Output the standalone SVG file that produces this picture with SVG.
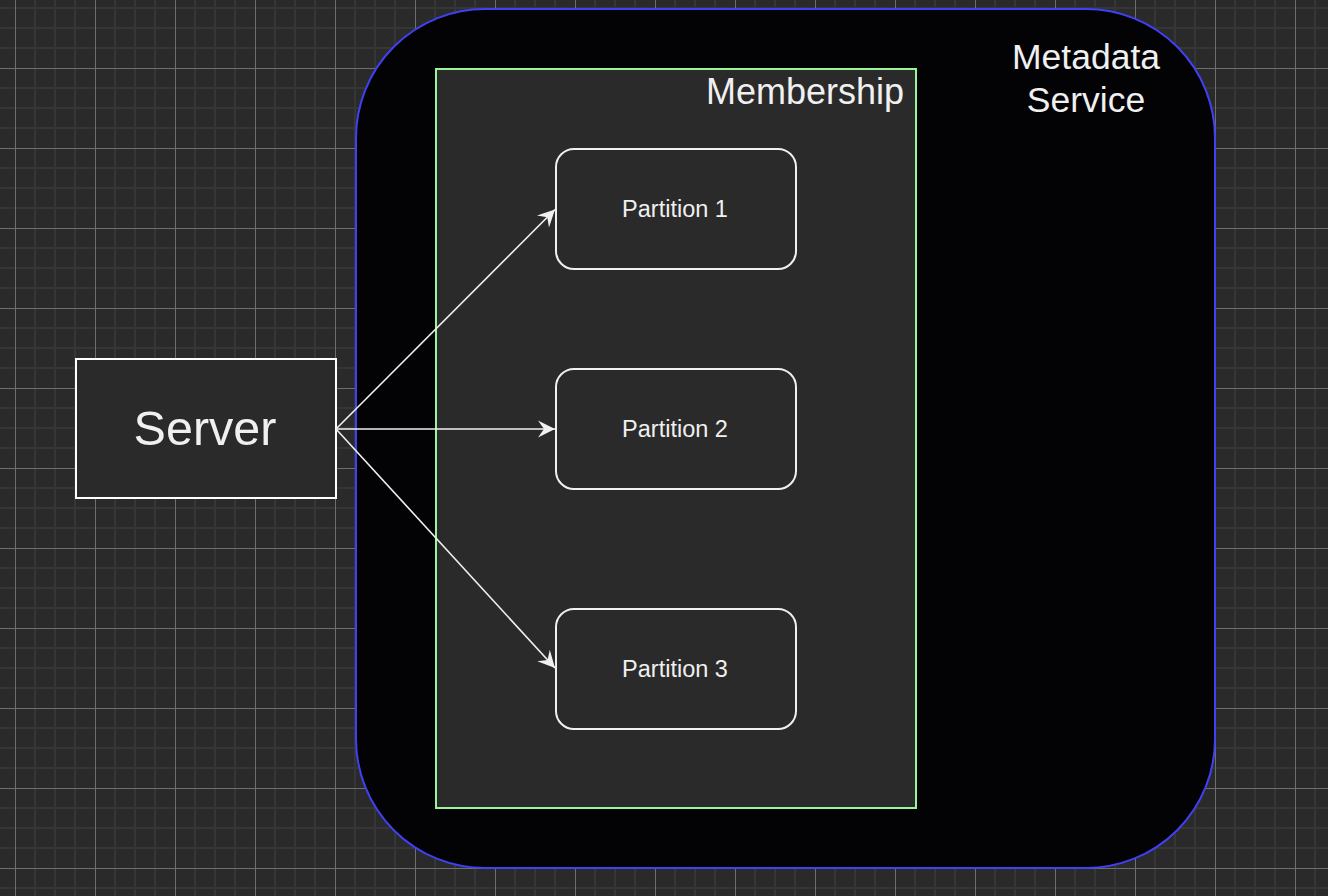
<svg xmlns="http://www.w3.org/2000/svg" width="1328" height="896" viewBox="0 0 1328 896">
<style>
.lbl{font-family:"Liberation Sans",Arial,sans-serif;fill:#f0f0f0}
.part{fill:#2a2a2a;stroke:#f0f0f0;stroke-width:2}
.edge{stroke:#f0f0f0;stroke-width:1.6;fill:none;marker-end:url(#arr)}
</style>
<defs>
<pattern id="grid" x="14" y="67" width="80" height="80" patternUnits="userSpaceOnUse">
<rect x="0" y="0" width="80" height="80" fill="#2a2a2a"/>
<g fill="#363636">
<rect x="20" y="0" width="2" height="80"/><rect x="40" y="0" width="2" height="80"/><rect x="60" y="0" width="2" height="80"/>
<rect x="0" y="20" width="80" height="2"/><rect x="0" y="40" width="80" height="2"/><rect x="0" y="60" width="80" height="2"/>
</g>
<g fill="#6e6e6e">
<rect x="1" y="0" width="1" height="80"/><rect x="0" y="1" width="80" height="1"/>
</g>
</pattern>
<marker id="arr" markerUnits="userSpaceOnUse" markerWidth="20" markerHeight="20" viewBox="-18 -10 20 20" refX="0" refY="0" orient="auto">
<path d="M0,0 L-17,-8.5 L-11,0 L-17,8.5 Z" fill="#f0f0f0"/>
</marker>
</defs>
<rect width="1328" height="896" fill="url(#grid)"/>
<g id="metadata-service">
<rect x="356" y="9" width="859" height="859" rx="129" ry="129" fill="#030305" stroke="#4040f5" stroke-width="2"/>
<text class="lbl" x="1086" y="69" font-size="35.5" text-anchor="middle">Metadata</text>
<text class="lbl" x="1086" y="112" font-size="35.5" text-anchor="middle">Service</text>
</g>
<g id="membership">
<rect x="436" y="69" width="480" height="739" fill="#2a2a2a" stroke="#99f599" stroke-width="2"/>
<text class="lbl" x="904" y="104" font-size="36" text-anchor="end">Membership</text>
</g>
<g id="server">
<rect x="76" y="359" width="260" height="139" fill="#2a2a2a" stroke="#ffffff" stroke-width="2"/>
<text class="lbl" x="205" y="445" font-size="48.5" text-anchor="middle">Server</text>
</g>
<g id="partition-1">
<rect class="part" x="556" y="149" width="240" height="120" rx="18" ry="18"/>
<text class="lbl" x="675" y="217" font-size="23.5" text-anchor="middle">Partition 1</text>
</g>
<g id="partition-2">
<rect class="part" x="556" y="369" width="240" height="120" rx="18" ry="18"/>
<text class="lbl" x="675" y="437" font-size="23.5" text-anchor="middle">Partition 2</text>
</g>
<g id="partition-3">
<rect class="part" x="556" y="609" width="240" height="120" rx="18" ry="18"/>
<text class="lbl" x="675" y="677" font-size="23.5" text-anchor="middle">Partition 3</text>
</g>
<g id="connectors">
<line class="edge" x1="336" y1="429" x2="555" y2="209.5"/>
<line class="edge" x1="336" y1="429" x2="555" y2="429"/>
<line class="edge" x1="336" y1="429" x2="555" y2="668"/>
</g>
</svg>
